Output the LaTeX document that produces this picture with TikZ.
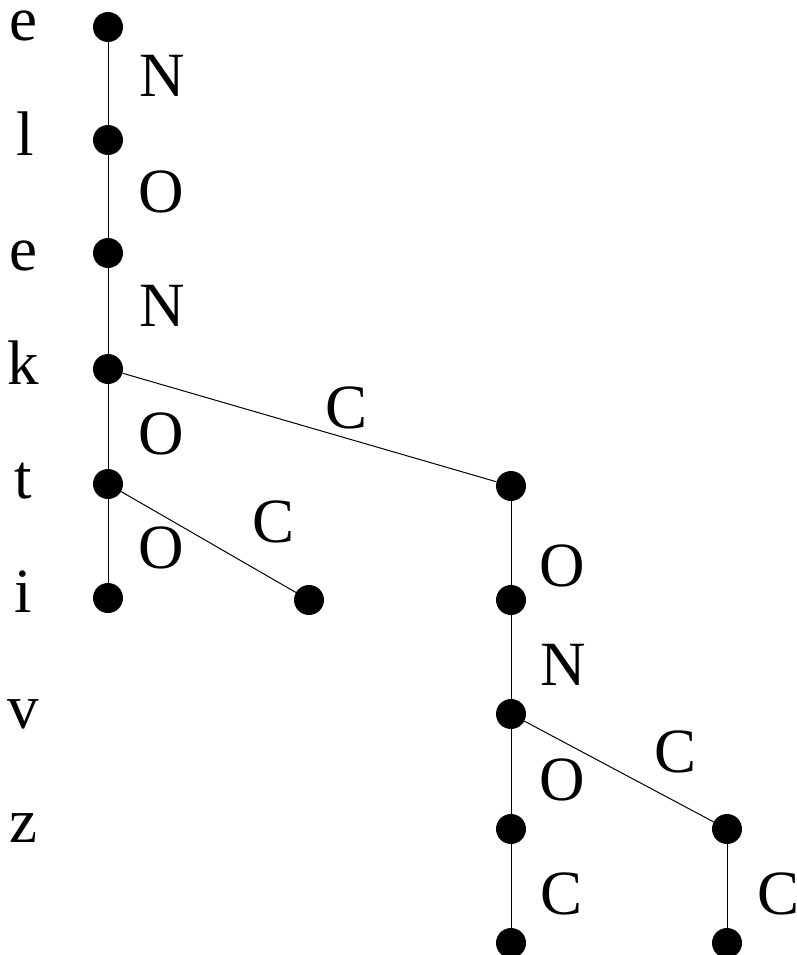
\documentclass[tikz,border=0pt]{standalone}
\usepackage{fontspec}
\setmainfont{Liberation Serif}
\begin{document}
\begin{tikzpicture}[x=1pt,y=-1pt,
  dot/.style={circle,fill=black,inner sep=0pt,minimum size=30pt},
  lbl/.style={anchor=base,inner sep=0pt,font=\fontsize{63}{70}\selectfont},
  edge/.style={draw=black,line width=1pt}]
\useasboundingbox (0,0) rectangle (796,955);
% dots
\node[dot] (e1) at (108,27) {};
\node[dot] (l1) at (108,140) {};
\node[dot] (e2) at (108,253) {};
\node[dot] (k1) at (108,369) {};
\node[dot] (t1) at (108,484) {};
\node[dot] (i1) at (108,598) {};
\node[dot] (tc) at (309,600) {};
\node[dot] (kc) at (511,486) {};
\node[dot] (a1) at (511,600) {};
\node[dot] (v1) at (511,714) {};
\node[dot] (z1) at (511,829) {};
\node[dot] (zb) at (511,943) {};
\node[dot] (vc) at (727,829) {};
\node[dot] (vb) at (727,943) {};
% edges
\draw[edge] (e1) -- (l1);
\draw[edge] (l1) -- (e2);
\draw[edge] (e2) -- (k1);
\draw[edge] (k1) -- (t1);
\draw[edge] (t1) -- (i1);
\draw[edge] (t1) -- (tc);
\draw[edge] (k1) -- (kc);
\draw[edge] (kc) -- (a1);
\draw[edge] (a1) -- (v1);
\draw[edge] (v1) -- (z1);
\draw[edge] (z1) -- (zb);
\draw[edge] (v1) -- (vc);
\draw[edge] (vc) -- (vb);
% left letters
\node[lbl] (le1) at (23,41) {e};
\node[lbl] (ll1) at (25,155) {l};
\node[lbl] (le2) at (23,270) {e};
\node[lbl] (lk1) at (23,384) {k};
\node[lbl] (lt1) at (23,498) {t};
\node[lbl] (li1) at (23,612) {i};
\node[lbl] (lv1) at (23,728) {v};
\node[lbl] (lz1) at (23,842) {z};
% edge labels
\node[lbl] (n1) at (162,97) {N};
\node[lbl] (o1) at (161,212) {O};
\node[lbl] (n2) at (162,326) {N};
\node[lbl] (o2) at (161,454) {O};
\node[lbl] (o3) at (161,568) {O};
\node[lbl] (c1) at (347,428) {C};
\node[lbl] (c2) at (274,542) {C};
\node[lbl] (o4) at (562,586) {O};
\node[lbl] (n3) at (563,685) {N};
\node[lbl] (c3) at (676,772) {C};
\node[lbl] (o5) at (562,800) {O};
\node[lbl] (c4) at (562,914) {C};
\node[lbl] (c5) at (778,914) {C};
\end{tikzpicture}
\end{document}
